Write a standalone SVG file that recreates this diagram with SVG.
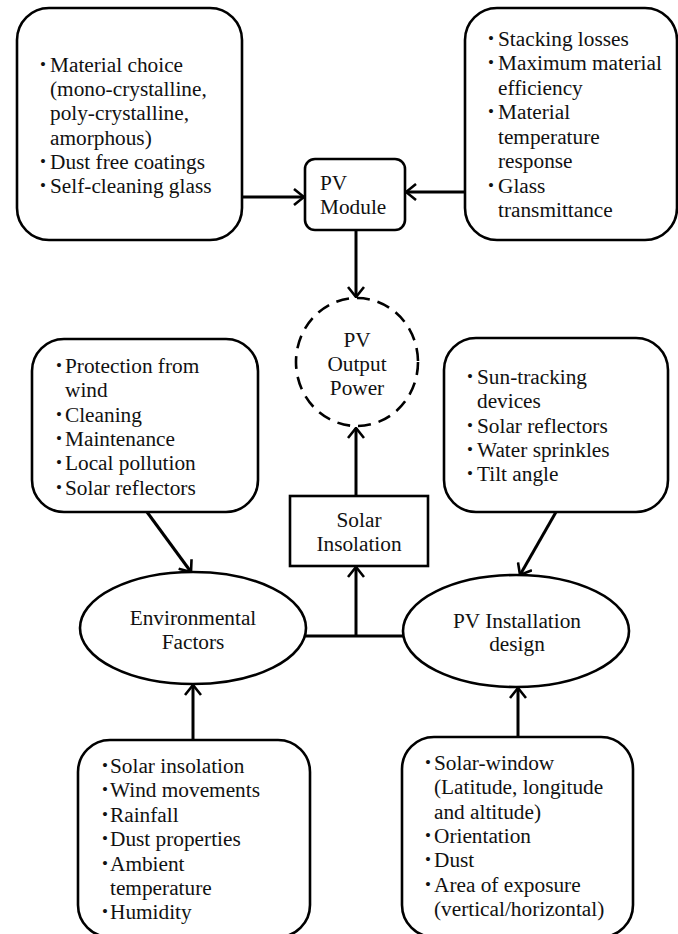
<svg xmlns="http://www.w3.org/2000/svg" width="678" height="934" viewBox="0 0 678 934">
<defs>
<style>
text{font-family:"Liberation Serif","Times New Roman",serif;font-size:21.3px;fill:#111}
.b{font-size:17px}
.c{text-anchor:middle}
.box{fill:#fff;stroke:#000;stroke-width:2.6}
.dash{fill:#fff;stroke:#000;stroke-width:2.6;stroke-dasharray:13 8}
.con{fill:none;stroke:#000;stroke-width:3}
</style>
<marker id="ah" viewBox="0 0 12 18" refX="11" refY="9" markerWidth="12" markerHeight="18" markerUnits="userSpaceOnUse" orient="auto">
<path d="M1,1 L11,9 L1,17" fill="none" stroke="#000" stroke-width="2.6"/>
</marker>
</defs>
<rect width="678" height="934" fill="#fff"/>
<g id="connectors">
<line class="con" x1="242" y1="197" x2="304" y2="197" marker-end="url(#ah)"/>
<line class="con" x1="465" y1="192" x2="406" y2="192" marker-end="url(#ah)"/>
<line class="con" x1="356" y1="230" x2="356" y2="297" marker-end="url(#ah)"/>
<line class="con" x1="356" y1="496" x2="356" y2="428" marker-end="url(#ah)"/>
<path class="con" d="M305,636 H404"/>
<line class="con" x1="356" y1="636" x2="356" y2="567" marker-end="url(#ah)"/>
<line class="con" x1="147" y1="512" x2="191" y2="572" marker-end="url(#ah)"/>
<line class="con" x1="556" y1="512" x2="520" y2="575" marker-end="url(#ah)"/>
<line class="con" x1="193" y1="740" x2="193" y2="685" marker-end="url(#ah)"/>
<line class="con" x1="518" y1="737" x2="518" y2="688" marker-end="url(#ah)"/>
</g>
<g id="material">
<rect class="box" x="17" y="8" width="225" height="232" rx="32"/>
<text class="b" x="40" y="70">•</text><text x="50" y="72">Material choice</text>
<text x="50" y="96">(mono-crystalline,</text>
<text x="50" y="120">poly-crystalline,</text>
<text x="50" y="145">amorphous)</text>
<text class="b" x="40" y="167">•</text><text x="50" y="169">Dust free coatings</text>
<text class="b" x="40" y="191">•</text><text x="50" y="193">Self-cleaning glass</text>
</g>
<g id="losses">
<rect class="box" x="465" y="8" width="212" height="232" rx="32"/>
<text class="b" x="488" y="44">•</text><text x="498" y="46">Stacking losses</text>
<text class="b" x="488" y="68">•</text><text x="498" y="70">Maximum material</text>
<text x="498" y="95">efficiency</text>
<text class="b" x="488" y="117">•</text><text x="498" y="119">Material</text>
<text x="498" y="144">temperature</text>
<text x="498" y="168">response</text>
<text class="b" x="488" y="191">•</text><text x="498" y="193">Glass</text>
<text x="498" y="217">transmittance</text>
</g>
<g id="pv-module">
<rect class="box" x="305" y="159" width="100" height="71" rx="10"/>
<text x="320" y="190">PV</text>
<text x="320" y="214">Module</text>
</g>
<g id="pv-output">
<ellipse class="dash" cx="357" cy="362" rx="61" ry="64"/>
<text class="c" x="357" y="347">PV</text>
<text class="c" x="357" y="371">Output</text>
<text class="c" x="357" y="395">Power</text>
</g>
<g id="env-measures">
<rect class="box" x="32" y="339" width="226" height="173" rx="32"/>
<text class="b" x="56" y="371">•</text><text x="65" y="373">Protection from</text>
<text x="65" y="397">wind</text>
<text class="b" x="56" y="420">•</text><text x="65" y="422">Cleaning</text>
<text class="b" x="56" y="444">•</text><text x="65" y="446">Maintenance</text>
<text class="b" x="56" y="468">•</text><text x="65" y="470">Local pollution</text>
<text class="b" x="56" y="493">•</text><text x="65" y="495">Solar reflectors</text>
</g>
<g id="install-measures">
<rect class="box" x="444" y="338" width="224" height="174" rx="32"/>
<text class="b" x="467" y="382">•</text><text x="477" y="384">Sun-tracking</text>
<text x="477" y="408">devices</text>
<text class="b" x="467" y="431">•</text><text x="477" y="433">Solar reflectors</text>
<text class="b" x="467" y="455">•</text><text x="477" y="457">Water sprinkles</text>
<text class="b" x="467" y="479">•</text><text x="477" y="481">Tilt angle</text>
</g>
<g id="solar-insolation">
<rect class="box" x="290" y="496" width="138" height="70"/>
<text class="c" x="359" y="527">Solar</text>
<text class="c" x="359" y="551">Insolation</text>
</g>
<g id="env-factors">
<ellipse class="box" cx="193" cy="628" rx="113" ry="56"/>
<text class="c" x="193" y="625">Environmental</text>
<text class="c" x="193" y="649">Factors</text>
</g>
<g id="pv-installation">
<ellipse class="box" cx="516" cy="631" rx="113" ry="56"/>
<text class="c" x="517" y="628">PV Installation</text>
<text class="c" x="517" y="651">design</text>
</g>
<g id="climate">
<rect class="box" x="78" y="740" width="232" height="197" rx="32"/>
<text class="b" x="102" y="771">•</text><text x="110" y="773">Solar insolation</text>
<text class="b" x="102" y="795">•</text><text x="110" y="797">Wind movements</text>
<text class="b" x="102" y="820">•</text><text x="110" y="822">Rainfall</text>
<text class="b" x="102" y="844">•</text><text x="110" y="846">Dust properties</text>
<text class="b" x="102" y="869">•</text><text x="110" y="871">Ambient</text>
<text x="110" y="895">temperature</text>
<text class="b" x="102" y="917">•</text><text x="110" y="919">Humidity</text>
</g>
<g id="site">
<rect class="box" x="402" y="737" width="231" height="200" rx="32"/>
<text class="b" x="425" y="768">•</text><text x="434" y="770">Solar-window</text>
<text x="434" y="794">(Latitude, longitude</text>
<text x="434" y="819">and altitude)</text>
<text class="b" x="425" y="841">•</text><text x="434" y="843">Orientation</text>
<text class="b" x="425" y="865">•</text><text x="434" y="867">Dust</text>
<text class="b" x="425" y="890">•</text><text x="434" y="892">Area of exposure</text>
<text x="434" y="916">(vertical/horizontal)</text>
</g>
</svg>
